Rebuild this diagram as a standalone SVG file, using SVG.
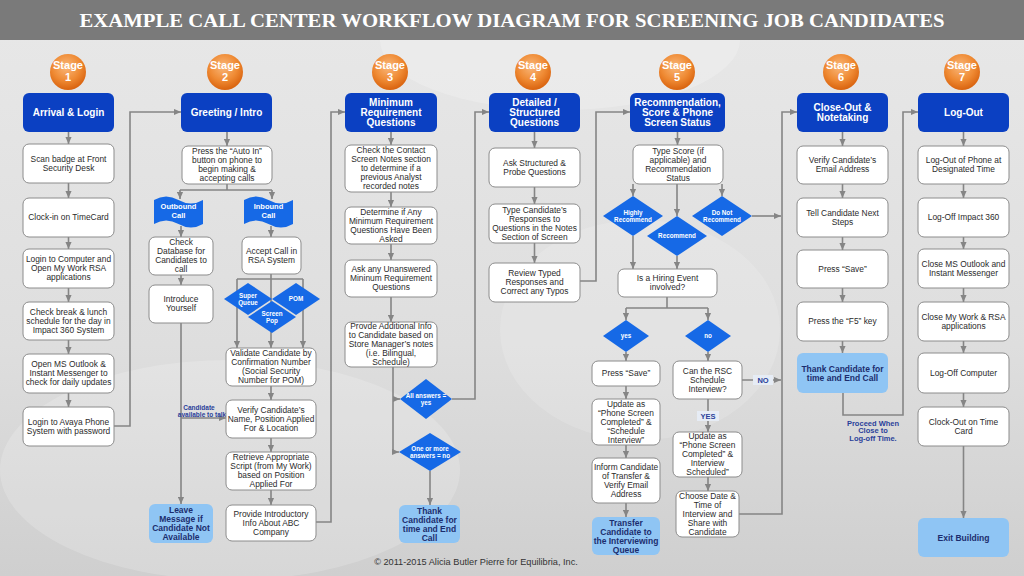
<svg xmlns="http://www.w3.org/2000/svg" width="1024" height="576" viewBox="0 0 1024 576">
<defs>
<linearGradient id="bg" x1="0" y1="0" x2="0" y2="1">
<stop offset="0" stop-color="#e8e8e8"/><stop offset="0.6" stop-color="#dedede"/><stop offset="1" stop-color="#cfcfcf"/>
</linearGradient>
<radialGradient id="org" cx="0.45" cy="0.35" r="0.65">
<stop offset="0" stop-color="#f9b77a"/><stop offset="0.6" stop-color="#ef8a33"/><stop offset="1" stop-color="#d9630f"/>
</radialGradient>
<marker id="ah" viewBox="0 0 8 8" refX="8" refY="4" markerWidth="7" markerHeight="7" markerUnits="userSpaceOnUse" orient="auto"><path d="M0,0.5 L8,4 L0,7.5 z" fill="#858585"/></marker>
<style>
.t{font-family:"Liberation Sans",Arial,sans-serif;font-size:8.4px;fill:#2b2b2b;text-anchor:middle}
.box{fill:#fff;stroke:#8c8c8c;stroke-width:1}
.hdr{fill:#0b40c2}
.ht{font-size:10px;font-weight:bold;fill:#fff}
.end{fill:#8fc5f4}
.et{font-size:8.5px;font-weight:bold;fill:#1c2d6e}
.dia{fill:#1669e6}
.dt{font-size:6.3px;font-weight:bold;fill:#fff}
.ft{font-size:7.5px;font-weight:bold;fill:#fff}
.st{font-size:11px;font-weight:bold;fill:#fff}
.lab{font-size:6.5px;font-weight:bold;fill:#2a3f9a}
.lab2{font-size:7.5px;font-weight:bold;fill:#2a3f9a}
.c{fill:none;stroke:#858585;stroke-width:1.6}
.a{marker-end:url(#ah)}
</style>
</defs>
<rect width="1024" height="576" fill="url(#bg)"/>
<ellipse cx="230" cy="470" rx="230" ry="110" fill="#ffffff" opacity="0.18"/>
<ellipse cx="640" cy="330" rx="140" ry="110" fill="#ffffff" opacity="0.15"/>
<ellipse cx="560" cy="40" rx="180" ry="70" fill="#ffffff" opacity="0.2"/>
<rect width="1024" height="40" fill="#7a7a7a"/>
<text x="512" y="27" font-family="'Liberation Serif',serif" font-weight="bold" font-size="19" fill="#fff" text-anchor="middle" textLength="865" lengthAdjust="spacingAndGlyphs">EXAMPLE CALL CENTER WORKFLOW DIAGRAM FOR SCREENING JOB CANDIDATES</text>

<g id="connectors">
<path class="c a" d="M68.5,132 V144"/><path class="c a" d="M68.5,183 V198"/><path class="c a" d="M68.5,237 V249"/><path class="c a" d="M68.5,288 V302"/><path class="c a" d="M68.5,340 V354"/><path class="c a" d="M68.5,393 V407"/>
<path class="c a" d="M114,426 H130 V112 H181"/>
<path class="c a" d="M227,132 V146"/>
<path class="c" d="M227,184 V190 M180,190 H272"/>
<path class="c a" d="M180,190 V199"/><path class="c a" d="M272,190 V199"/>
<path class="c a" d="M181,226 V237"/><path class="c a" d="M271,226 V237"/>
<path class="c a" d="M181,275 V285"/>
<path class="c a" d="M181,323 V504"/>
<path class="c a" d="M181,418 H226"/>
<path class="c" d="M271,274 V279 M237,279 H303"/>
<path class="c a" d="M237,279 V348"/><path class="c a" d="M271,279 V348"/><path class="c a" d="M303,279 V348"/>
<path class="c a" d="M271,386 V400"/><path class="c a" d="M271,438 V452"/><path class="c a" d="M271,490 V505"/>
<path class="c a" d="M316,522 H331 V112 H345"/>
<path class="c a" d="M391,132 V145"/><path class="c a" d="M391,192 V207"/><path class="c a" d="M391,244 V260"/><path class="c a" d="M391,297 V322"/>
<path class="c a" d="M393,367 V452 H399"/><path class="c a" d="M393,399 H400"/>
<path class="c a" d="M452,399 H475 V112 H489"/>
<path class="c a" d="M430,471 V505"/>
<path class="c a" d="M534.5,132 V148"/><path class="c a" d="M534.5,187 V204"/><path class="c a" d="M534.5,243 V263"/>
<path class="c a" d="M580,281 H596 V112 H630"/>
<path class="c a" d="M677.5,132 V145"/>
<path class="c a" d="M633,184 V196"/><path class="c a" d="M677,184 V216"/><path class="c a" d="M722,184 V196"/>
<path class="c a" d="M752,216 H781"/>
<path class="c a" d="M633,236 V269"/><path class="c a" d="M677,256 V269"/>
<path class="c" d="M667,297 V308 M626,308 H708"/>
<path class="c a" d="M626,308 V320"/><path class="c a" d="M708,308 V320"/>
<path class="c a" d="M626,352 V361"/><path class="c a" d="M626,386 V399"/><path class="c a" d="M626,445 V458"/><path class="c a" d="M626,503 V517"/>
<path class="c a" d="M708,352 V361"/>
<path class="c a" d="M742,380 H781"/>
<path class="c a" d="M708,399 V432"/>
<path class="c a" d="M708,477 V491"/>
<path class="c a" d="M739,514 H782 V112 H797"/>
<path class="c a" d="M842.5,132 V146"/><path class="c a" d="M842.5,184 V198"/><path class="c a" d="M842.5,237 V250"/><path class="c a" d="M842.5,288 V302"/><path class="c a" d="M842.5,341 V353"/>
<path class="c a" d="M843,393 V415 H903 V112 H918"/>
<path class="c a" d="M963.5,132 V146"/><path class="c a" d="M963.5,184 V198"/><path class="c a" d="M963.5,237 V249"/><path class="c a" d="M963.5,288 V302"/><path class="c a" d="M963.5,341 V353"/><path class="c a" d="M963.5,393 V407"/><path class="c a" d="M963.5,446 V518"/>
<rect x="753" y="375" width="20" height="10" fill="#e6ecf5"/>
<text class="t lab2" x="763" y="383">NO</text>
<rect x="697" y="411" width="22" height="10" fill="#e6ecf5"/>
<text class="t lab2" x="708" y="419">YES</text>
<text class="t lab"><tspan x="199" y="409.5">Candidate</tspan><tspan x="202" y="416.5">available to talk</tspan></text>
<text class="t lab2"><tspan x="873" y="425.5">Proceed When</tspan><tspan x="873" y="433.3">Close to</tspan><tspan x="873" y="441">Log-off Time.</tspan></text>
</g>

<g id="stage1"><circle cx="68" cy="72" r="18" fill="url(#org)"/><text class="t st"><tspan x="68" y="69">Stage</tspan><tspan x="68" y="81">1</tspan></text></g>
<g id="stage2"><circle cx="225" cy="72" r="18" fill="url(#org)"/><text class="t st"><tspan x="225" y="69">Stage</tspan><tspan x="225" y="81">2</tspan></text></g>
<g id="stage3"><circle cx="390" cy="72" r="18" fill="url(#org)"/><text class="t st"><tspan x="390" y="69">Stage</tspan><tspan x="390" y="81">3</tspan></text></g>
<g id="stage4"><circle cx="533" cy="72" r="18" fill="url(#org)"/><text class="t st"><tspan x="533" y="69">Stage</tspan><tspan x="533" y="81">4</tspan></text></g>
<g id="stage5"><circle cx="677" cy="72" r="18" fill="url(#org)"/><text class="t st"><tspan x="677" y="69">Stage</tspan><tspan x="677" y="81">5</tspan></text></g>
<g id="stage6"><circle cx="841" cy="72" r="18" fill="url(#org)"/><text class="t st"><tspan x="841" y="69">Stage</tspan><tspan x="841" y="81">6</tspan></text></g>
<g id="stage7"><circle cx="962" cy="72" r="18" fill="url(#org)"/><text class="t st"><tspan x="962" y="69">Stage</tspan><tspan x="962" y="81">7</tspan></text></g>

<g id="h1"><rect class="hdr" x="23" y="93" width="91" height="39" rx="6"/><text class="t ht" x="68.5" y="116">Arrival &amp; Login</text></g>
<g id="h2"><rect class="hdr" x="181" y="93" width="91" height="39" rx="6"/><text class="t ht" x="226.5" y="116">Greeting / Intro</text></g>
<g id="h3"><rect class="hdr" x="345" y="93" width="92" height="39" rx="6"/><text class="t ht"><tspan x="391" y="106">Minimum</tspan><tspan x="391" y="116">Requirement</tspan><tspan x="391" y="126">Questions</tspan></text></g>
<g id="h4"><rect class="hdr" x="489" y="93" width="91" height="39" rx="6"/><text class="t ht"><tspan x="534.5" y="106">Detailed /</tspan><tspan x="534.5" y="116">Structured</tspan><tspan x="534.5" y="126">Questions</tspan></text></g>
<g id="h5"><rect class="hdr" x="630" y="93" width="95" height="39" rx="6"/><text class="t ht"><tspan x="677.5" y="106">Recommendation,</tspan><tspan x="677.5" y="116">Score &amp; Phone</tspan><tspan x="677.5" y="126">Screen Status</tspan></text></g>
<g id="h6"><rect class="hdr" x="797" y="93" width="91" height="39" rx="6"/><text class="t ht"><tspan x="842.5" y="111">Close-Out &amp;</tspan><tspan x="842.5" y="121">Notetaking</tspan></text></g>
<g id="h7"><rect class="hdr" x="918" y="93" width="91" height="39" rx="6"/><text class="t ht" x="963.5" y="116">Log-Out</text></g>

<g id="s1a"><rect class="box" x="23" y="144" width="91" height="39" rx="6"/><text class="t"><tspan x="68.5" y="161.9">Scan badge at Front</tspan><tspan x="68.5" y="170.9">Security Desk</tspan></text></g>
<g id="s1b"><rect class="box" x="23" y="198" width="91" height="39" rx="6"/><text class="t" x="68.5" y="220.4">Clock-in on TimeCard</text></g>
<g id="s1c"><rect class="box" x="23" y="249" width="91" height="39" rx="6"/><text class="t"><tspan x="68.5" y="262.4">Login to Computer and</tspan><tspan x="68.5" y="271.4">Open My Work RSA</tspan><tspan x="68.5" y="280.4">applications</tspan></text></g>
<g id="s1d"><rect class="box" x="23" y="302" width="91" height="38" rx="6"/><text class="t"><tspan x="68.5" y="314.9">Check break &amp; lunch</tspan><tspan x="68.5" y="323.9">schedule for the day in</tspan><tspan x="68.5" y="332.9">Impact 360 System</tspan></text></g>
<g id="s1e"><rect class="box" x="23" y="354" width="91" height="39" rx="6"/><text class="t"><tspan x="68.5" y="367.4">Open MS Outlook &amp;</tspan><tspan x="68.5" y="376.4">Instant Messenger to</tspan><tspan x="68.5" y="385.4">check for daily updates</tspan></text></g>
<g id="s1f"><rect class="box" x="23" y="407" width="91" height="39" rx="6"/><text class="t"><tspan x="68.5" y="424.9">Login to Avaya Phone</tspan><tspan x="68.5" y="433.9">System with password</tspan></text></g>

<g id="s2a"><rect class="box" x="182" y="146" width="90" height="38" rx="6"/><text class="t"><tspan x="227" y="154.2">Press the “Auto In”</tspan><tspan x="227" y="163">button on phone to</tspan><tspan x="227" y="171.8">begin making &amp;</tspan><tspan x="227" y="180.6">accepting calls</tspan></text></g>
<g id="outbound"><path class="dia" d="M154,200 Q166,193 178.5,200 T203,200 V224 Q191,231 178.5,224 T154,224 Z"/><text class="t ft"><tspan x="178.5" y="209">Outbound</tspan><tspan x="178.5" y="218">Call</tspan></text></g>
<g id="inbound"><path class="dia" d="M244,200 Q256,193 268.5,200 T293,200 V224 Q281,231 268.5,224 T244,224 Z"/><text class="t ft"><tspan x="268.5" y="209">Inbound</tspan><tspan x="268.5" y="218">Call</tspan></text></g>
<g id="s2b"><rect class="box" x="149" y="237" width="64" height="38" rx="6"/><text class="t"><tspan x="181" y="245.4">Check</tspan><tspan x="181" y="254.4">Database for</tspan><tspan x="181" y="263.4">Candidates to</tspan><tspan x="181" y="272.4">call</tspan></text></g>
<g id="s2c"><rect class="box" x="149" y="285" width="64" height="38" rx="6"/><text class="t"><tspan x="181" y="302.4">Introduce</tspan><tspan x="181" y="311.4">Yourself</tspan></text></g>
<g id="s2leave"><rect class="end" x="149" y="504" width="64" height="39" rx="6"/><text class="t et"><tspan x="181" y="513">Leave</tspan><tspan x="181" y="522">Message if</tspan><tspan x="181" y="531">Candidate Not</tspan><tspan x="181" y="540">Available</tspan></text></g>
<g id="s2d"><rect class="box" x="242" y="237" width="59" height="37" rx="6"/><text class="t"><tspan x="271.5" y="253.9">Accept Call in</tspan><tspan x="271.5" y="262.9">RSA System</tspan></text></g>
<g id="superqueue"><path class="dia" d="M248,283 L272,299 L248,315 L224,299 Z"/><text class="t dt"><tspan x="248" y="297.6">Super</tspan><tspan x="248" y="304.6">Queue</tspan></text></g>
<g id="pom"><path class="dia" d="M296,283 L320,299 L296,315 L272,299 Z"/><text class="t dt" x="296" y="301.2">POM</text></g>
<g id="screenpop"><path class="dia" d="M272,301 L296,317 L272,333 L248,317 Z"/><text class="t dt"><tspan x="272" y="315.6">Screen</tspan><tspan x="272" y="322.6">Pop</tspan></text></g>
<g id="s2e"><rect class="box" x="226" y="348" width="90" height="38" rx="6"/><text class="t"><tspan x="271" y="356.4">Validate Candidate by</tspan><tspan x="271" y="365.4">Confirmation Number</tspan><tspan x="271" y="374.4">(Social Security</tspan><tspan x="271" y="383.4">Number for POM)</tspan></text></g>
<g id="s2f"><rect class="box" x="226" y="400" width="90" height="38" rx="6"/><text class="t"><tspan x="271" y="412.9">Verify Candidate’s</tspan><tspan x="271" y="421.9">Name, Position Applied</tspan><tspan x="271" y="430.9">For &amp; Location</tspan></text></g>
<g id="s2g"><rect class="box" x="226" y="452" width="90" height="38" rx="6"/><text class="t"><tspan x="271" y="460.4">Retrieve Appropriate</tspan><tspan x="271" y="469.4">Script (from My Work)</tspan><tspan x="271" y="478.4">based on Position</tspan><tspan x="271" y="487.4">Applied For</tspan></text></g>
<g id="s2h"><rect class="box" x="226" y="505" width="90" height="36" rx="6"/><text class="t"><tspan x="271" y="516.9">Provide Introductory</tspan><tspan x="271" y="525.9">Info About ABC</tspan><tspan x="271" y="534.9">Company</tspan></text></g>

<g id="s3a"><rect class="box" x="345" y="145" width="92" height="47" rx="6"/><text class="t"><tspan x="391" y="153.4">Check the Contact</tspan><tspan x="391" y="162.4">Screen Notes section</tspan><tspan x="391" y="171.4">to determine if a</tspan><tspan x="391" y="180.4">previous Analyst</tspan><tspan x="391" y="189.4">recorded notes</tspan></text></g>
<g id="s3b"><rect class="box" x="345" y="207" width="92" height="37" rx="6"/><text class="t"><tspan x="391" y="214.9">Determine if Any</tspan><tspan x="391" y="223.9">Minimum Requirement</tspan><tspan x="391" y="232.9">Questions Have Been</tspan><tspan x="391" y="241.9">Asked</tspan></text></g>
<g id="s3c"><rect class="box" x="345" y="260" width="92" height="37" rx="6"/><text class="t"><tspan x="391" y="272.4">Ask any Unanswered</tspan><tspan x="391" y="281.4">Mininum Requirement</tspan><tspan x="391" y="290.4">Questions</tspan></text></g>
<g id="s3d"><rect class="box" x="345" y="322" width="92" height="45" rx="6"/><text class="t"><tspan x="391" y="329.4">Provde Additional Info</tspan><tspan x="391" y="338.4">to Candidate based on</tspan><tspan x="391" y="347.4">Store Manager’s notes</tspan><tspan x="391" y="356.4">(i.e. Bilingual,</tspan><tspan x="391" y="365.4">Schedule)</tspan></text></g>
<g id="allyes"><path class="dia" d="M426,379 L452,399 L426,419 L400,399 Z"/><text class="t dt"><tspan x="426" y="397.5">All answers =</tspan><tspan x="426" y="405">yes</tspan></text></g>
<g id="oneno"><path class="dia" d="M430,433 L461,452 L430,471 L399,452 Z"/><text class="t dt"><tspan x="430" y="450.5">One or more</tspan><tspan x="430" y="458">answers = no</tspan></text></g>
<g id="s3end"><rect class="end" x="399" y="505" width="61" height="38" rx="6"/><text class="t et"><tspan x="429.5" y="513.5">Thank</tspan><tspan x="429.5" y="522.5">Candidate for</tspan><tspan x="429.5" y="531.5">time and End</tspan><tspan x="429.5" y="540.5">Call</tspan></text></g>

<g id="s4a"><rect class="box" x="489" y="148" width="91" height="39" rx="6"/><text class="t"><tspan x="534.5" y="165.9">Ask Structured &amp;</tspan><tspan x="534.5" y="174.9">Probe Questions</tspan></text></g>
<g id="s4b"><rect class="box" x="489" y="204" width="91" height="39" rx="6"/><text class="t"><tspan x="534.5" y="212.9">Type Candidate’s</tspan><tspan x="534.5" y="221.9">Responses to</tspan><tspan x="534.5" y="230.9">Questions in the Notes</tspan><tspan x="534.5" y="239.9">Section of Screen</tspan></text></g>
<g id="s4c"><rect class="box" x="489" y="263" width="91" height="39" rx="6"/><text class="t"><tspan x="534.5" y="276.4">Review Typed</tspan><tspan x="534.5" y="285.4">Responses and</tspan><tspan x="534.5" y="294.4">Correct any Typos</tspan></text></g>

<g id="s5a"><rect class="box" x="633" y="145" width="90" height="39" rx="6"/><text class="t"><tspan x="678" y="153.9">Type Score (if</tspan><tspan x="678" y="162.9">applicable) and</tspan><tspan x="678" y="171.9">Recommendation</tspan><tspan x="678" y="180.9">Status</tspan></text></g>
<g id="highly"><path class="dia" d="M633,196 L663,216 L633,236 L603,216 Z"/><text class="t dt"><tspan x="633" y="214.5">Highly</tspan><tspan x="633" y="222">Recommend</tspan></text></g>
<g id="recommend"><path class="dia" d="M677,216 L707,236 L677,256 L647,236 Z"/><text class="t dt" x="677" y="238.3">Recommend</text></g>
<g id="donot"><path class="dia" d="M722,196 L752,216 L722,236 L692,216 Z"/><text class="t dt"><tspan x="722" y="214.5">Do Not</tspan><tspan x="722" y="222">Recommend</tspan></text></g>
<g id="hiring"><rect class="box" x="618" y="269" width="99" height="28" rx="6"/><text class="t"><tspan x="667.5" y="281.4">Is a Hiring Event</tspan><tspan x="667.5" y="290.4">involved?</tspan></text></g>
<g id="yes"><path class="dia" d="M626,320 L649,336 L626,352 L603,336 Z"/><text class="t dt" x="626" y="338.2">yes</text></g>
<g id="no"><path class="dia" d="M708,320 L731,336 L708,352 L685,336 Z"/><text class="t dt" x="708" y="338.2">no</text></g>
<g id="s5b"><rect class="box" x="592" y="361" width="68" height="25" rx="6"/><text class="t" x="626" y="376.4">Press “Save”</text></g>
<g id="s5c"><rect class="box" x="592" y="399" width="68" height="46" rx="6"/><text class="t"><tspan x="626" y="406.9">Update as</tspan><tspan x="626" y="415.9">“Phone Screen</tspan><tspan x="626" y="424.9">Completed” &amp;</tspan><tspan x="626" y="433.9">“Schedule</tspan><tspan x="626" y="442.9">Interview”</tspan></text></g>
<g id="s5d"><rect class="box" x="592" y="458" width="68" height="45" rx="6"/><text class="t"><tspan x="626" y="469.9">Inform Candidate</tspan><tspan x="626" y="478.9">of Transfer &amp;</tspan><tspan x="626" y="487.9">Verify Email</tspan><tspan x="626" y="496.9">Address</tspan></text></g>
<g id="s5end"><rect class="end" x="592" y="517" width="68" height="38" rx="6"/><text class="t et"><tspan x="626" y="525.5">Transfer</tspan><tspan x="626" y="534.5">Candidate to</tspan><tspan x="626" y="543.5">the Interviewing</tspan><tspan x="626" y="552.5">Queue</tspan></text></g>
<g id="s5e"><rect class="box" x="673" y="361" width="69" height="38" rx="6"/><text class="t"><tspan x="707.5" y="373.9">Can the RSC</tspan><tspan x="707.5" y="382.9">Schedule</tspan><tspan x="707.5" y="391.9">Interview?</tspan></text></g>
<g id="s5f"><rect class="box" x="673" y="432" width="69" height="45" rx="6"/><text class="t"><tspan x="707.5" y="439.4">Update as</tspan><tspan x="707.5" y="448.4">“Phone Screen</tspan><tspan x="707.5" y="457.4">Completed” &amp;</tspan><tspan x="707.5" y="466.4">Interview</tspan><tspan x="707.5" y="475.4">Scheduled”</tspan></text></g>
<g id="s5g"><rect class="box" x="676" y="491" width="63" height="46" rx="6"/><text class="t"><tspan x="707.5" y="498.9">Choose Date &amp;</tspan><tspan x="707.5" y="507.9">Time of</tspan><tspan x="707.5" y="516.9">Interview and</tspan><tspan x="707.5" y="525.9">Share with</tspan><tspan x="707.5" y="534.9">Candidate</tspan></text></g>

<g id="s6a"><rect class="box" x="797" y="146" width="91" height="38" rx="6"/><text class="t"><tspan x="842.5" y="163.4">Verify Candidate’s</tspan><tspan x="842.5" y="172.4">Email Address</tspan></text></g>
<g id="s6b"><rect class="box" x="797" y="198" width="91" height="39" rx="6"/><text class="t"><tspan x="842.5" y="215.9">Tell Candidate Next</tspan><tspan x="842.5" y="224.9">Steps</tspan></text></g>
<g id="s6c"><rect class="box" x="797" y="250" width="91" height="38" rx="6"/><text class="t" x="842.5" y="271.9">Press “Save”</text></g>
<g id="s6d"><rect class="box" x="797" y="302" width="91" height="39" rx="6"/><text class="t" x="842.5" y="324.4">Press the “F5” key</text></g>
<g id="s6end"><rect class="end" x="797" y="353" width="91" height="40" rx="6"/><text class="t et"><tspan x="842.5" y="371.5">Thank Candidate for</tspan><tspan x="842.5" y="380.5">time and End Call</tspan></text></g>

<g id="s7a"><rect class="box" x="918" y="146" width="91" height="38" rx="6"/><text class="t"><tspan x="963.5" y="163.4">Log-Out of Phone at</tspan><tspan x="963.5" y="172.4">Designated Time</tspan></text></g>
<g id="s7b"><rect class="box" x="918" y="198" width="91" height="39" rx="6"/><text class="t" x="963.5" y="220.4">Log-Off Impact 360</text></g>
<g id="s7c"><rect class="box" x="918" y="249" width="91" height="39" rx="6"/><text class="t"><tspan x="963.5" y="266.9">Close MS Outlook and</tspan><tspan x="963.5" y="275.9">Instant Messenger</tspan></text></g>
<g id="s7d"><rect class="box" x="918" y="302" width="91" height="39" rx="6"/><text class="t"><tspan x="963.5" y="319.9">Close My Work &amp; RSA</tspan><tspan x="963.5" y="328.9">applications</tspan></text></g>
<g id="s7e"><rect class="box" x="918" y="353" width="91" height="40" rx="6"/><text class="t" x="963.5" y="375.9">Log-Off Computer</text></g>
<g id="s7f"><rect class="box" x="918" y="407" width="91" height="39" rx="6"/><text class="t"><tspan x="963.5" y="424.9">Clock-Out on Time</tspan><tspan x="963.5" y="433.9">Card</tspan></text></g>
<g id="s7end"><rect class="end" x="918" y="518" width="91" height="39" rx="6"/><text class="t et" x="963.5" y="540.5">Exit Building</text></g>

<text class="t" x="476" y="565" style="font-size:9.2px;fill:#333">© 2011-2015  Alicia Butler Pierre for Equilibria, Inc.</text>
</svg>
